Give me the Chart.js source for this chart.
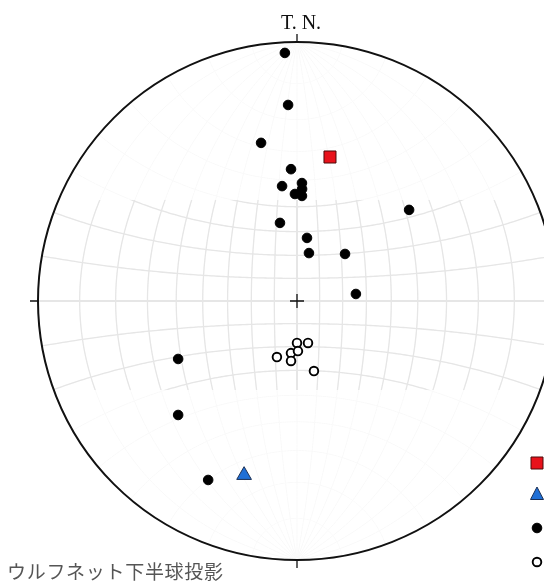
<!DOCTYPE html>
<html>
<head>
<meta charset="utf-8">
<script src="https://cdn.jsdelivr.net/npm/chart.js@4/dist/chart.umd.min.js"></script>
<style>
  html, body { margin: 0; padding: 0; background: #fff; overflow: hidden; }
  canvas { display: block; }
</style>
</head>
<body>
<canvas id="net" width="620" height="587"></canvas>
<script>
// lineations: trend / plunge in degrees
const trendFilled  = [357.2, 357.4, 347.2, 357.4, 352.6, 2.4, 2.6, 358.9, 2.7, 347.7, 9.0, 14.0, 45.6, 50.9, 83.2, 244.0, 226.2, 206.4];
const plungeFilled = [2.4, 15.7, 25.9, 36.0, 41.8, 41.0, 43.2, 45.1, 45.8, 55.7, 62.3, 68.4, 60.9, 31.7, 64.2, 35.9, 25.1, 14.7];
const trendOpen  = [199.7, 186.6, 180.0, 178.9, 185.7, 165.3, 166.4];
const plungeOpen = [64.1, 67.1, 71.6, 68.1, 63.8, 71.0, 58.9];
const trendSquare = [12.9], plungeSquare = [30.6];
const trendTriangle = [196.9], plungeTriangle = [19.8];

const northLabel = 'T. N.';
const netCaption = 'ウルフネット下半球投影';

const rad = d => d * Math.PI / 180;

// lower hemisphere, equal-angle projection onto unit circle
function project(trends, plunges) {
  return trends.map((t, i) => {
    const r = Math.tan(rad(90 - plunges[i]) / 2);
    return { x: r * Math.sin(rad(t)), y: r * Math.cos(rad(t)) };
  });
}

function netLine(ctx, sx, sy, pts) {
  ctx.beginPath();
  pts.forEach((p, i) => {
    const px = sx.getPixelForValue(p[0]), py = sy.getPixelForValue(p[1]);
    if (i === 0) ctx.moveTo(px, py); else ctx.lineTo(px, py);
  });
  ctx.stroke();
}

function wulff(lam, phi) {
  const c = Math.cos(rad(phi)) * Math.cos(rad(lam));
  return [Math.cos(rad(phi)) * Math.sin(rad(lam)) / (1 + c), Math.sin(rad(phi)) / (1 + c)];
}

function drawGrid(ctx, sx, sy, color, width, axisWidth) {
  ctx.strokeStyle = color;
  for (let lam = -80; lam <= 80; lam += 10) {
    const pts = [];
    for (let phi = -90; phi <= 90; phi += 1) pts.push(wulff(lam, phi));
    ctx.lineWidth = lam === 0 ? axisWidth : width;
    netLine(ctx, sx, sy, pts);
  }
  for (let phi = -80; phi <= 80; phi += 10) {
    const pts = [];
    for (let lam = -90; lam <= 90; lam += 1) pts.push(wulff(lam, phi));
    ctx.lineWidth = phi === 0 ? axisWidth : width;
    netLine(ctx, sx, sy, pts);
  }
}

const netPlugin = {
  id: 'wulffNet',
  beforeDatasetsDraw(chart) {
    const { ctx, scales: { x, y } } = chart;
    const cx = x.getPixelForValue(0), cy = y.getPixelForValue(0);
    const R = x.getPixelForValue(1) - cx;
    ctx.save();
    ctx.beginPath();
    ctx.arc(cx, cy, R, 0, Math.PI * 2);
    ctx.clip();
    drawGrid(ctx, x, y, '#f9f9f9', 1, 1);
    ctx.beginPath();
    ctx.rect(0, 200, chart.width, 190);
    ctx.clip();
    drawGrid(ctx, x, y, '#e6e6e6', 1.3, 2);
    ctx.restore();

    ctx.save();
    ctx.strokeStyle = '#111';
    ctx.lineWidth = 2;
    ctx.beginPath();
    ctx.arc(cx, cy, R, 0, Math.PI * 2);
    ctx.stroke();
    ctx.lineWidth = 1.3;
    ctx.beginPath();
    ctx.moveTo(cx, cy - R - 8); ctx.lineTo(cx, cy - R);
    ctx.moveTo(cx, cy + R); ctx.lineTo(cx, cy + R + 8);
    ctx.moveTo(cx - R - 8, cy); ctx.lineTo(cx - R, cy);
    ctx.moveTo(cx + R, cy); ctx.lineTo(cx + R + 8, cy);
    ctx.moveTo(cx - 7, cy); ctx.lineTo(cx + 7, cy);
    ctx.moveTo(cx, cy - 7); ctx.lineTo(cx, cy + 7);
    ctx.stroke();

    ctx.fillStyle = '#111';
    ctx.font = '20px "Liberation Serif", serif';
    ctx.textAlign = 'center';
    ctx.textBaseline = 'alphabetic';
    ctx.fillText(northLabel, cx + 4, 29);
    ctx.restore();
  },
  afterDraw(chart) {
    const { ctx } = chart;
    ctx.save();
    ctx.fillStyle = '#555';
    ctx.font = '19px "Noto Sans CJK JP", sans-serif';
    ctx.letterSpacing = '0.7px';
    ctx.textAlign = 'left';
    ctx.textBaseline = 'middle';
    ctx.fillText(netCaption, 7, 572);
    ctx.letterSpacing = '0px';

    // legend symbols (labels fall outside the window)
    const lx = 537;
    chart.data.datasets.forEach((ds, i) => {
      const ly = [463, 495, 528, 562][i];
      ctx.lineWidth = ds.borderWidth;
      ctx.strokeStyle = ds.borderColor;
      ctx.fillStyle = ds.backgroundColor;
      ctx.beginPath();
      if (ds.pointStyle === 'rect') ctx.rect(lx - 6, ly - 6, 12, 12);
      else if (ds.pointStyle === 'triangle') { ctx.moveTo(lx, ly - 8); ctx.lineTo(lx + 6.5, ly + 4.5); ctx.lineTo(lx - 6.5, ly + 4.5); ctx.closePath(); }
      else ctx.arc(lx, ly, ds.pointRadius, 0, Math.PI * 2);
      ctx.fill();
      ctx.stroke();
    });
    ctx.restore();
  }
};

new Chart(document.getElementById('net'), {
  type: 'scatter',
  data: {
    datasets: [
      { label: 'square', data: project(trendSquare, plungeSquare), pointStyle: 'rect', pointRadius: 8.5,
        backgroundColor: '#e8121b', borderColor: '#4a0a0a', borderWidth: 1 },
      { label: 'triangle', data: project(trendTriangle, plungeTriangle), pointStyle: 'triangle', pointRadius: 8.5,
        backgroundColor: '#1f6fd6', borderColor: '#1a2f55', borderWidth: 1 },
      { label: 'filled', data: project(trendFilled, plungeFilled), pointStyle: 'circle', pointRadius: 4.8,
        backgroundColor: '#000', borderColor: '#000', borderWidth: 1 },
      { label: 'open', data: project(trendOpen, plungeOpen), pointStyle: 'circle', pointRadius: 4.3,
        backgroundColor: '#fff', borderColor: '#000', borderWidth: 1.9 }
    ]
  },
  options: {
    responsive: false,
    animation: false,
    devicePixelRatio: 1,
    layout: { padding: { left: 38, right: 64, top: 42, bottom: 27 } },
    scales: {
      x: { type: 'linear', min: -1, max: 1, display: false },
      y: { type: 'linear', min: -1, max: 1, display: false }
    },
    plugins: { legend: { display: false }, tooltip: { enabled: false } },
    datasets: { scatter: { clip: false } }
  },
  plugins: [netPlugin]
});
</script>
</body>
</html>
